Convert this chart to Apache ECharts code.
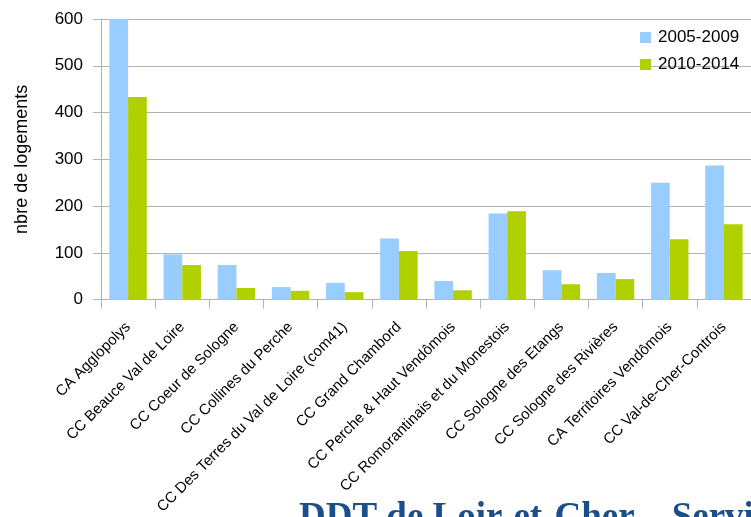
<!DOCTYPE html>
<html>
<head>
<meta charset="utf-8">
<script src="https://cdn.jsdelivr.net/npm/echarts@6/dist/echarts.min.js"></script>
<style>
html,body{margin:0;padding:0;background:#fff;}
#c{width:751px;height:517px;}
</style>
</head>
<body>
<div id="c"></div>
<script>
var categories = [
  "CA Agglopolys",
  "CC Beauce Val de Loire",
  "CC Coeur de Sologne",
  "CC Collines du Perche",
  "CC Des Terres du Val de Loire (com41)",
  "CC Grand Chambord",
  "CC Perche & Haut Vendômois",
  "CC Romorantinais et du Monestois",
  "CC Sologne des Etangs",
  "CC Sologne des Rivières",
  "CA Territoires Vendômois",
  "CC Val-de-Cher-Controis"
];
var series2005 = [600, 97, 74, 27, 36, 131, 40, 184, 63, 57, 250, 287];
var series2010 = [433, 74, 25, 19, 16, 104, 20, 189, 33, 44, 129, 161];
var yTicks = [0, 100, 200, 300, 400, 500, 600];
var seriesNames = ["2005-2009", "2010-2014"];
var yAxisName = "nbre de logements";
var footerText = "DDT de Loir-et-Cher \u2013 Service Urbanisme";

var chart = echarts.init(document.getElementById('c'), null, {renderer: 'canvas'});
var font = "'Liberation Sans', Arial, sans-serif";
chart.setOption({
  animation: false,
  backgroundColor: '#ffffff',
  textStyle: {fontFamily: font},
  grid: {left: 101, right: -2, top: 19, bottom: 216, containLabel: false},
  legend: {
    orient: 'vertical',
    left: 635,
    top: 24,
    padding: 5,
    itemWidth: 11,
    itemHeight: 11,
    itemGap: 10,
    icon: 'rect',
    textStyle: {fontFamily: font, fontSize: 17, color: '#000', padding: [0, 0, 0, 2]},
    data: seriesNames
  },
  xAxis: {
    type: 'category',
    data: categories,
    axisLine: {lineStyle: {color: '#b3b3b3', width: 1}},
    axisTick: {show: true, length: 9, lineStyle: {color: '#b3b3b3'}},
    axisLabel: {interval: 0, rotate: 45, margin: 25, fontSize: 15, color: '#000', fontFamily: font}
  },
  yAxis: {
    type: 'value',
    min: yTicks[0],
    max: yTicks[yTicks.length - 1],
    interval: 100,
    name: yAxisName,
    nameLocation: 'middle',
    nameGap: 70,
    nameTextStyle: {fontSize: 18, color: '#000', fontFamily: font},
    axisLine: {show: true, lineStyle: {color: '#b3b3b3'}},
    axisTick: {show: true, length: 8, lineStyle: {color: '#b3b3b3'}},
    axisLabel: {margin: 18, fontSize: 17, color: '#000', fontFamily: font},
    splitLine: {lineStyle: {color: '#b3b3b3', width: 1}}
  },
  series: [
    {name: seriesNames[0], type: 'bar', data: series2005, barGap: '0%', barCategoryGap: '31%', itemStyle: {color: '#99ccff'}},
    {name: seriesNames[1], type: 'bar', data: series2010, barGap: '0%', barCategoryGap: '31%', itemStyle: {color: '#b0d000'}}
  ],
  graphic: [{
    type: 'text',
    left: 299,
    top: 500,
    style: {
      text: footerText,
      font: "bold 37px 'Liberation Serif', 'Times New Roman', serif",
      fill: '#1b4f8c'
    }
  }]
});
</script>
</body>
</html>
